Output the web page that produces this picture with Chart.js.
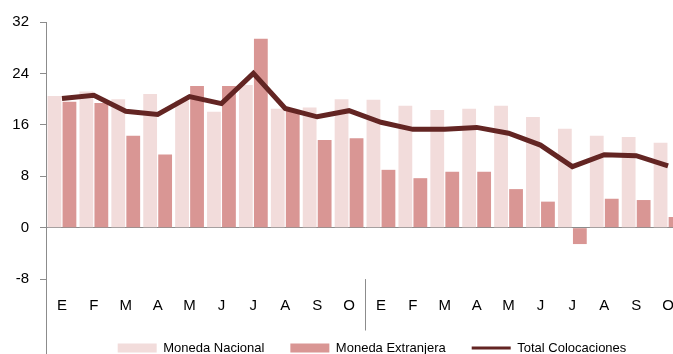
<!DOCTYPE html>
<html lang="es">
<head>
<meta charset="utf-8">
<title>Colocaciones</title>
<script src="https://cdn.jsdelivr.net/npm/chart.js@4/dist/chart.umd.min.js"></script>
<style>
  html, body { margin: 0; padding: 0; overflow: hidden; background: #ffffff; }
  #wrap { position: relative; width: 673px; height: 354px; overflow: hidden; }
  canvas { position: absolute; left: 0; top: 0; }
</style>
</head>
<body>
<div id="wrap"><canvas id="chart" width="684" height="402"></canvas></div>
<script>
// Month initials over two years
const categories = ['E','F','M','A','M','J','J','A','S','O','E','F','M','A','M','J','J','A','S','O'];

// Annual growth rates (%)
const monedaNacional    = [20.5, 21.2, 20.0, 20.8, 19.8, 18.05, 22.2, 18.5, 18.7, 20.0, 19.9, 18.95, 18.3, 18.5, 18.95, 17.2, 15.4, 14.3, 14.1, 13.2];
const monedaExtranjera  = [19.6, 19.4, 14.3, 11.4, 22.05, 22.05, 29.4, 18.3, 13.65, 13.9, 9.0, 7.7, 8.7, 8.7, 6.0, 4.05, -2.55, 4.5, 4.3, 1.66];
const totalColocaciones = [20.1, 20.6, 18.1, 17.6, 20.4, 19.3, 24.0, 18.55, 17.25, 18.2, 16.4, 15.3, 15.3, 15.6, 14.7, 12.85, 9.5, 11.35, 11.2, 9.6];

// Value axis ticks
const yTicks = [-8, 0, 8, 16, 24, 32];
const yMin = -19.5;
const yMax = 32;
const yearBreakIndex = 10;

const FONT = '"Liberation Sans", Arial, Helvetica, sans-serif';
const AXIS_GRAY = '#8c8c8c';

// Month letters under the bars and the divider between the two years
const monthLabels = {
  id: 'monthLabels',
  afterDraw(chart) {
    const { ctx } = chart;
    const x = chart.scales.x, y = chart.scales.y;
    ctx.save();
    ctx.font = '15px ' + FONT;
    ctx.fillStyle = '#000000';
    ctx.textAlign = 'center';
    ctx.textBaseline = 'middle';
    const ly = y.getPixelForValue(-12.2);
    categories.forEach((c, i) => ctx.fillText(c, x.getPixelForValue(i), ly));
    const xd = Math.round((x.getPixelForValue(yearBreakIndex - 1) + x.getPixelForValue(yearBreakIndex)) / 2) + 0.5;
    ctx.strokeStyle = AXIS_GRAY;
    ctx.lineWidth = 1;
    ctx.beginPath();
    ctx.moveTo(xd, y.getPixelForValue(-8));
    ctx.lineTo(xd, y.getPixelForValue(-16));
    ctx.stroke();
    ctx.restore();
  }
};

// Puts the legend row under the plot, centred on the series block
const legendPlacement = {
  id: 'legendPlacement',
  afterLayout(chart) {
    const lg = chart.legend;
    if (!lg) return;
    const pad = lg.options.labels.padding;
    const w = lg.right - lg.left;
    const h = lg.bottom - lg.top;
    const cx = 372;
    const textMid = 348;
    lg.left = cx - w / 2;
    lg.right = lg.left + w;
    lg.top = textMid - pad - 6.5;
    lg.bottom = lg.top + h;
  }
};

new Chart(document.getElementById('chart'), {
  data: {
    labels: categories,
    datasets: [
      {
        type: 'bar',
        label: 'Moneda Nacional',
        data: monedaNacional,
        backgroundColor: '#F2DCDB',
        borderWidth: 0,
        order: 2,
        categoryPercentage: 0.94,
        barPercentage: 0.92
      },
      {
        type: 'bar',
        label: 'Moneda Extranjera',
        data: monedaExtranjera,
        backgroundColor: '#D99694',
        borderWidth: 0,
        order: 2,
        categoryPercentage: 0.94,
        barPercentage: 0.92
      },
      {
        type: 'line',
        label: 'Total Colocaciones',
        data: totalColocaciones,
        borderColor: '#632523',
        backgroundColor: '#632523',
        borderWidth: 5,
        pointRadius: 0,
        pointHoverRadius: 0,
        tension: 0,
        order: 1
      }
    ]
  },
  options: {
    responsive: false,
    animation: false,
    layout: { padding: { top: 22, left: 0, right: 0, bottom: 0 } },
    scales: {
      x: {
        display: false,
        offset: true
      },
      y: {
        min: yMin,
        max: yMax,
        afterBuildTicks(scale) {
          scale.ticks = yTicks.map(v => ({ value: v }));
        },
        afterFit(scale) {
          scale.width = 46;
        },
        ticks: {
          color: '#000000',
          font: { family: FONT, size: 15 },
          padding: 11
        },
        grid: {
          drawTicks: true,
          tickLength: 6,
          tickColor: AXIS_GRAY,
          lineWidth: 1,
          color: (ctx) => (ctx.tick && ctx.tick.value === 0 ? AXIS_GRAY : 'rgba(0,0,0,0)')
        },
        border: { display: true, color: AXIS_GRAY, width: 1 }
      }
    },
    plugins: {
      tooltip: { enabled: false },
      legend: {
        position: 'bottom',
        labels: {
          color: '#000000',
          font: { family: FONT, size: 13 },
          usePointStyle: true,
          pointStyleWidth: 39,
          boxWidth: 39,
          boxHeight: 9,
          padding: 26,
          sort: (a, b) => a.datasetIndex - b.datasetIndex,
          generateLabels(chart) {
            const items = Chart.defaults.plugins.legend.labels.generateLabels(chart);
            items.forEach(it => {
              const ds = chart.data.datasets[it.datasetIndex];
              if (ds.type === 'line') {
                it.pointStyle = 'line';
                it.lineWidth = 3;
                it.strokeStyle = ds.borderColor;
              } else {
                it.pointStyle = 'rect';
                it.lineWidth = 0;
                it.fillStyle = ds.backgroundColor;
              }
            });
            return items;
          }
        }
      }
    }
  },
  plugins: [monthLabels, legendPlacement]
});
</script>
</body>
</html>
